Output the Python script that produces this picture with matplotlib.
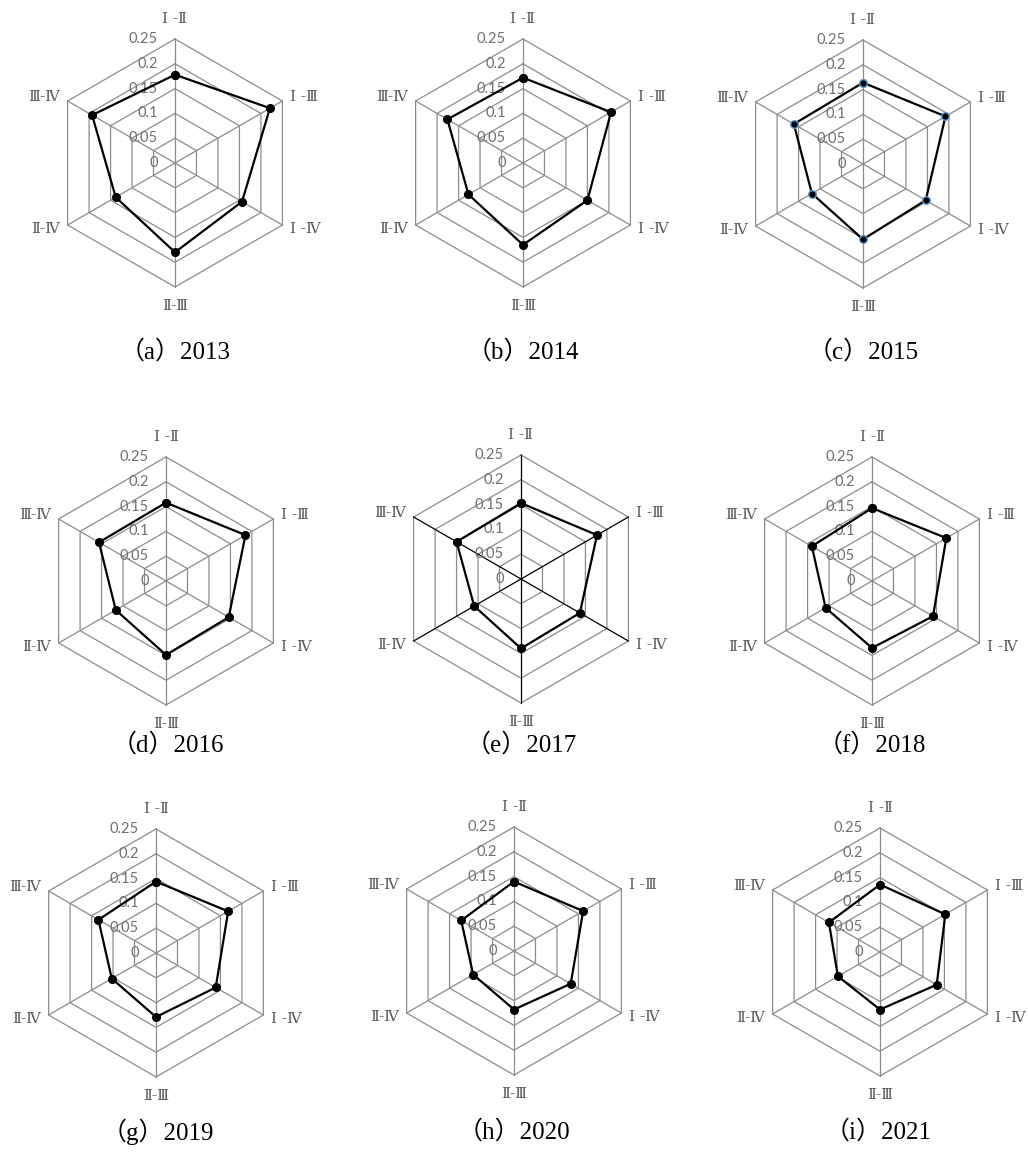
import numpy as np
import matplotlib
matplotlib.use("Agg")
import matplotlib.pyplot as plt
from matplotlib.transforms import offset_copy

# pair labels around the hexagon, clockwise from the top
pairs = ["Ⅰ -Ⅱ", "Ⅰ -Ⅲ", "Ⅰ -Ⅳ", "Ⅱ-Ⅲ", "Ⅱ-Ⅳ", "Ⅲ-Ⅳ"]
rings = [0.05, 0.1, 0.15, 0.2, 0.25]
ring_labels = ["0", "0.05", "0.1", "0.15", "0.2", "0.25"]

years = [2013, 2014, 2015, 2016, 2017, 2018, 2019, 2020, 2021]
letters = ["a", "b", "c", "d", "e", "f", "g", "h", "i"]

v2013 = [0.178, 0.221, 0.156, 0.180, 0.138, 0.193]
v2014 = [0.172, 0.205, 0.150, 0.165, 0.127, 0.176]
v2015 = [0.164, 0.192, 0.146, 0.152, 0.119, 0.161]
v2016 = [0.158, 0.185, 0.146, 0.149, 0.117, 0.156]
v2017 = [0.153, 0.177, 0.137, 0.140, 0.109, 0.150]
v2018 = [0.147, 0.173, 0.142, 0.135, 0.108, 0.140]
v2019 = [0.144, 0.168, 0.139, 0.129, 0.103, 0.134]
v2020 = [0.140, 0.161, 0.132, 0.118, 0.095, 0.123]
v2021 = [0.136, 0.152, 0.132, 0.116, 0.098, 0.119]
values = [v2013, v2014, v2015, v2016, v2017, v2018, v2019, v2020, v2021]

W, H = 1028, 1166
R = 124  # hexagon radius in pixels
centers = [(175, 163), (523, 163), (863, 164),
           (166, 581), (521, 579), (872, 581),
           (156, 953), (514, 951), (880, 952)]
captions_xy = [(175, 352), (523, 352), (863, 352),
               (168, 745), (521, 745), (872, 745),
               (158, 1132), (514, 1132), (878, 1132)]

fig = plt.figure(figsize=(W / 100, H / 100), dpi=100)
fig.patch.set_facecolor("white")

theta = np.deg2rad(np.arange(0, 360, 60))
theta_c = np.append(theta, theta[0])
grid_col = "#8c8c8c"
txt_col = "#595959"

for k, (cx, cy) in enumerate(centers):
    ax = fig.add_axes([(cx - R) / W, (H - cy - R) / H, 2 * R / W, 2 * R / H],
                      projection="polar")
    ax.set_theta_zero_location("N")
    ax.set_theta_direction(-1)
    ax.set_ylim(0, 0.25)
    ax.grid(False)
    ax.spines["polar"].set_visible(False)
    ax.set_xticks([])
    ax.set_yticks([])
    ax.patch.set_alpha(0)

    # hexagonal rings and spokes
    for r in rings:
        ax.plot(theta_c, [r] * 7, color=grid_col, lw=0.9, clip_on=False, zorder=1)
    spoke_col = "black" if years[k] == 2017 else grid_col
    for t in theta:
        ax.plot([t, t], [0, 0.25], color=spoke_col, lw=0.9, clip_on=False, zorder=1)

    # ring value labels on the top spoke
    tr = offset_copy(ax.transData, fig=fig, x=-17, y=0, units="dots")
    for r, lab in zip([0] + rings, ring_labels):
        ax.text(0, r, lab, transform=tr, ha="right", va="center",
                fontsize=10.5, color="#6f6f6f", family="Lato", zorder=2)

    # pair labels
    for t, lab in zip(theta, pairs):
        deg = np.rad2deg(t)
        kw = dict(va="center", fontsize=11, color=txt_col, family=["DejaVu Serif"])
        if deg == 0:
            ax.text(t, 0.29, lab, ha="center", **kw)
        elif deg == 180:
            ax.text(t, 0.288, lab, ha="center", **kw)
        elif deg < 180:
            ax.text(t, 0.268, lab, ha="left", **kw)
        else:
            ax.text(t, 0.268, lab, ha="right", **kw)

    v = values[k]
    edge = "#5b9bd5" if years[k] == 2015 else "black"
    ax.plot(theta_c, v + v[:1], color="black", lw=1.6, marker="o", markersize=5.5,
            markerfacecolor="black", markeredgecolor=edge, markeredgewidth=1.0,
            clip_on=False, zorder=3)

for k, (x, y) in enumerate(captions_xy):
    fig.text(x / W, 1 - y / H, "（%s）%d" % (letters[k], years[k]), ha="center", va="center",
             fontsize=18, family=["Liberation Serif", "Noto Sans CJK SC"])

fig.savefig("out.png", dpi=100, facecolor="white")
